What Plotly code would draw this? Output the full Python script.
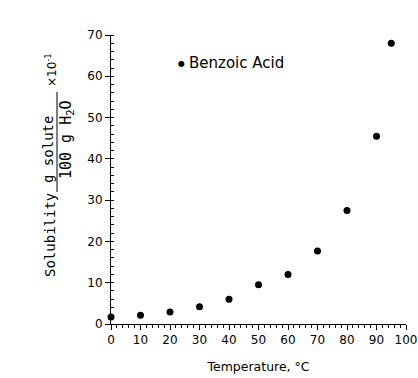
import plotly.graph_objects as go

temperature = [0, 10, 20, 30, 40, 50, 60, 70, 80, 90, 95]
solubility = [1.7, 2.1, 2.9, 4.2, 6.0, 9.5, 12.0, 17.7, 27.5, 45.5, 68.0]
series_name = "Benzoic Acid"
x_ticks = [0, 10, 20, 30, 40, 50, 60, 70, 80, 90, 100]
y_ticks = [0, 10, 20, 30, 40, 50, 60, 70]

FONT = "DejaVu Sans"
TITLE_FONT = "DejaVu Sans Mono"

fig = go.Figure()
fig.add_trace(go.Scatter(
    x=temperature, y=solubility, mode="markers",
    marker=dict(color="black", size=7),
    name=series_name, showlegend=False, cliponaxis=False,
))

axis_common = dict(
    showgrid=False, zeroline=False, showline=True, linecolor="black", linewidth=1,
    ticks="outside", ticklen=5, tickcolor="black", tickwidth=1,
    tickfont=dict(family=FONT, size=12, color="black"), automargin=False,
)

fig.update_layout(
    width=418, height=378,
    margin=dict(l=111, r=12, t=35, b=54),
    paper_bgcolor="white", plot_bgcolor="white",
    font=dict(family=FONT, color="black"),
    xaxis=dict(range=[0, 100], tickvals=x_ticks, **axis_common,
               minor=dict(ticks="outside", ticklen=3, tickcolor="black", dtick=2),
               title=dict(text="Temperature, °C", font=dict(family=FONT, size=12.5), standoff=15)),
    yaxis=dict(range=[0, 70], tickvals=y_ticks, **axis_common,
               minor=dict(ticks="inside", ticklen=3, tickcolor="black", dtick=2)),
)


def px_x(p):
    return (p - 111) / 295


def px_y(p):
    return (324 - p) / 289


# Legend-like label
fig.add_annotation(xref="paper", yref="paper", x=px_x(181), y=px_y(63),
                   text="●", showarrow=False, font=dict(size=8, color="black"),
                   xanchor="center", yanchor="middle")
fig.add_annotation(xref="paper", yref="paper", x=px_x(187), y=px_y(63),
                   text=series_name, showarrow=False, font=dict(family=FONT, size=15, color="black"),
                   xanchor="left", yanchor="middle")

# Y axis title built as rotated pieces (Solubility  g solute / 100 g H2O  x10^-1)
fig.add_annotation(xref="paper", yref="paper", x=px_x(50), y=px_y(235),
                   text="Solubility", textangle=-90, showarrow=False,
                   font=dict(family=TITLE_FONT, size=14), xanchor="center", yanchor="middle")
fig.add_annotation(xref="paper", yref="paper", x=px_x(48), y=px_y(150),
                   text="g solute", textangle=-90, showarrow=False,
                   font=dict(family=TITLE_FONT, size=14), xanchor="center", yanchor="middle")
fig.add_annotation(xref="paper", yref="paper", x=px_x(66), y=px_y(140),
                   text="100 g H<sub>2</sub>O", textangle=-90, showarrow=False,
                   font=dict(family=TITLE_FONT, size=15), xanchor="center", yanchor="middle")
fig.add_annotation(xref="paper", yref="paper", x=px_x(51), y=px_y(70),
                   text="×10<sup>-1</sup>", textangle=-90, showarrow=False,
                   font=dict(family=FONT, size=12), xanchor="center", yanchor="middle")
fig.add_shape(type="line", xref="paper", yref="paper",
              x0=px_x(57), x1=px_x(57), y0=px_y(192), y1=px_y(92),
              line=dict(color="black", width=1))

fig.write_html("out.html")
